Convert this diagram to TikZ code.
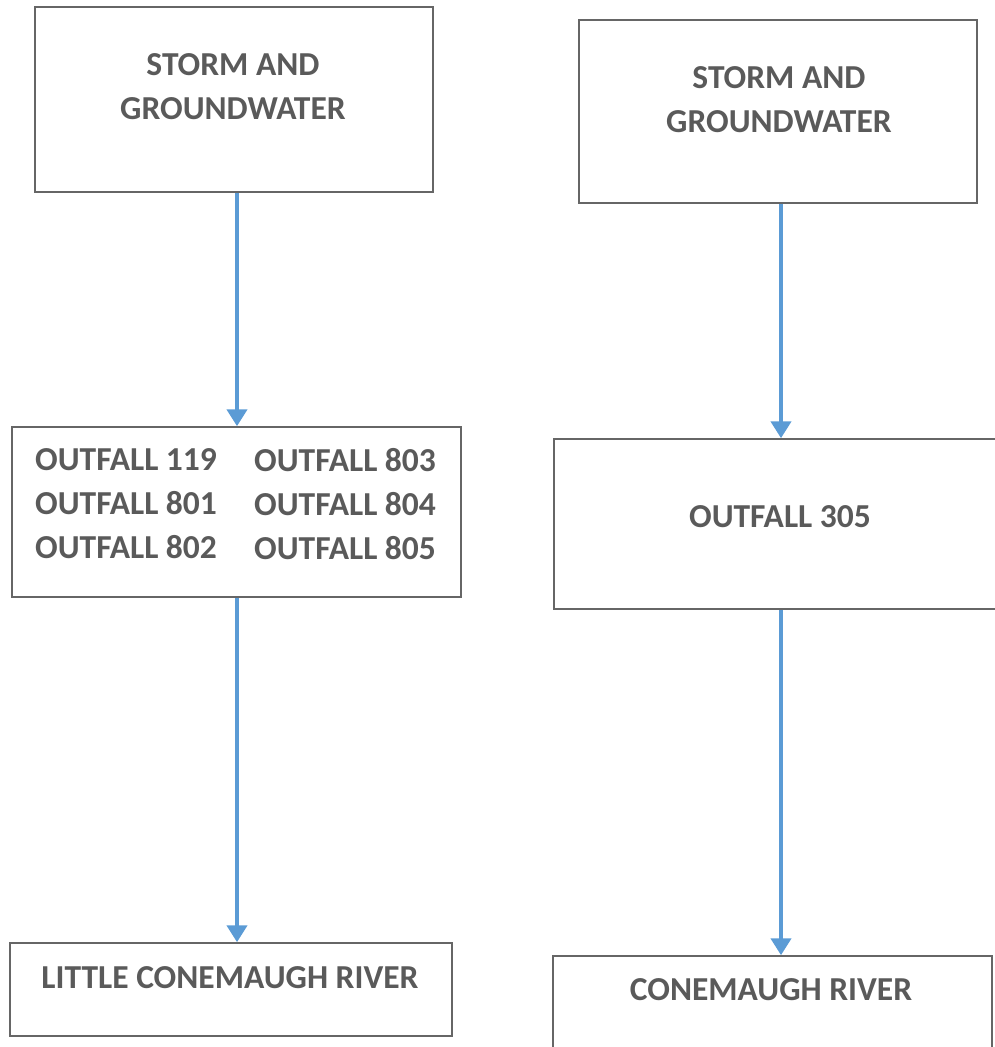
\documentclass[tikz,border=0pt]{standalone}
\usepackage{fontspec}
\setmainfont{Carlito}
\usetikzlibrary{arrows.meta}
\definecolor{txtgray}{HTML}{5A5A5A}
\definecolor{boxgray}{HTML}{666666}
\definecolor{flowblue}{HTML}{5B9BD5}
\begin{document}
\begin{tikzpicture}[x=1pt,y=-1pt,
  box/.style={draw=boxgray, line width=1.5pt, inner sep=0pt},
  lbl/.style={text=txtgray, font=\fontsize{33.5}{44}\selectfont\bfseries, inner sep=0pt, align=center, text depth=0pt},
  flow/.style={draw=flowblue, line width=4.5pt, -{Triangle[length=17pt,width=20pt]}, shorten >=0pt}]
\useasboundingbox (0,0) rectangle (995,1047);
% boxes
\node[box, minimum width=398pt, minimum height=185pt] (l1) at (234,99.5) {};
\node[box, minimum width=449pt, minimum height=170pt] (l2) at (236.5,512) {};
\node[box, minimum width=442pt, minimum height=93pt] (l3) at (231,989.5) {};
\node[box, minimum width=398pt, minimum height=183pt] (r1) at (778,111.5) {};
\node[box, minimum width=444pt, minimum height=170pt] (r2) at (776,524) {};
\node[box, minimum width=439pt, minimum height=96pt] (r3) at (772.5,1004) {};
% labels
\node[lbl] (t1) at (233,86.5) {STORM AND\\GROUNDWATER};
\node[lbl, anchor=west, align=left] (t2a) at (35,504) {OUTFALL 119\\OUTFALL 801\\OUTFALL 802};
\node[lbl, anchor=west, align=left] (t2b) at (254,504) {OUTFALL 803\\OUTFALL 804\\OUTFALL 805};
\node[lbl] (t3) at (230,978) {LITTLE CONEMAUGH RIVER};
\node[lbl] (u1) at (779,100) {STORM AND\\GROUNDWATER};
\node[lbl] (u2) at (780,517) {OUTFALL 305};
\node[lbl] (u3) at (771,990) {CONEMAUGH RIVER};
% arrow axes
\coordinate (la) at (237,0);
\coordinate (ra) at (781,0);
% connectors
\draw[flow] (l1.south -| la) -- (l2.north -| la);
\draw[flow] (l2.south -| la) -- (l3.north -| la);
\draw[flow] (r1.south -| ra) -- (r2.north -| ra);
\draw[flow] (r2.south -| ra) -- (r3.north -| ra);
\end{tikzpicture}
\end{document}
